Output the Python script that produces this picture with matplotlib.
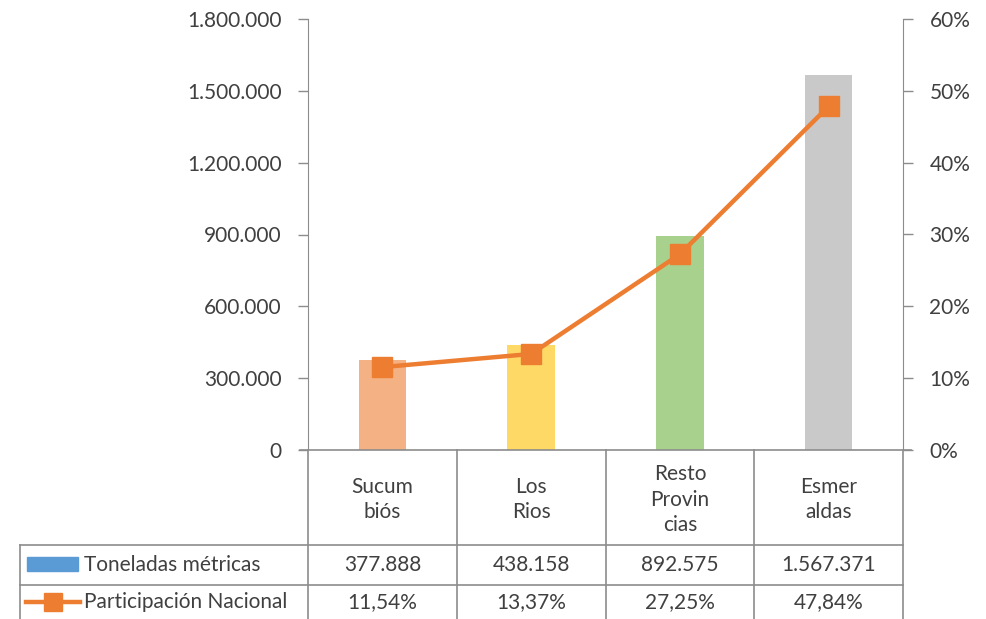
import matplotlib.pyplot as plt
import numpy as np

plt.rcParams['font.family'] = ['Lato', 'DejaVu Sans']

categorias = ["Sucum\nbiós", "Los\nRios", "Resto\nProvin\ncias", "Esmer\naldas"]
toneladas = [377888, 438158, 892575, 1567371]
participacion = [11.54, 13.37, 27.25, 47.84]
toneladas_txt = ["377.888", "438.158", "892.575", "1.567.371"]
participacion_txt = ["11,54%", "13,37%", "27,25%", "47,84%"]
colores_barras = ["#F4B183", "#FFD966", "#A9D18E", "#C9C9C9"]
izq_ticks = [0, 300000, 600000, 900000, 1200000, 1500000, 1800000]
izq_labels = ["0", "300.000", "600.000", "900.000", "1.200.000", "1.500.000", "1.800.000"]
der_ticks = [0, 10, 20, 30, 40, 50, 60]

W, H = 986, 619
fs = 15
fig = plt.figure(figsize=(W / 100, H / 100), dpi=100)
x0, x1, ytop, ybot = 308, 903, 19, 450
ax = fig.add_axes([x0 / W, 1 - ybot / H, (x1 - x0) / W, (ybot - ytop) / H])
ax2 = ax.twinx()

txtcol = "#404040"
gris = "#8C8C8C"
x = np.arange(len(categorias))
ax.bar(x, toneladas, width=0.32, color=colores_barras, zorder=2)
ax.set_xlim(-0.5, len(categorias) - 0.5)
ax.set_ylim(0, 1800000)
ax.set_yticks(izq_ticks)
ax.set_yticklabels(izq_labels)
ax.set_xticks([])

ax2.plot(x, participacion, color="#ED7D31", lw=3.2, marker="s", markersize=14, zorder=3)
ax2.set_ylim(0, 60)
ax2.set_yticks(der_ticks)
ax2.set_yticklabels([f"{t}%" for t in der_ticks])

for a in (ax, ax2):
    a.spines["top"].set_visible(False)
    a.spines["bottom"].set_visible(False)
    a.spines["left"].set_color(gris)
    a.spines["right"].set_color(gris)
    a.tick_params(axis="y", colors=gris, labelcolor=txtcol, labelsize=fs, length=7, width=1)
ax.tick_params(axis="y", pad=12)
ax2.tick_params(axis="y", pad=12)
ax.spines["right"].set_visible(False)
ax2.spines["left"].set_visible(False)

# data table drawn in figure pixel coordinates
def px(xp, yp):
    return xp / W, 1 - yp / H

def linea(xa, ya, xb, yb):
    (fa, ga), (fb, gb) = px(xa, ya), px(xb, yb)
    fig.add_artist(plt.Line2D([fa, fb], [ga, gb], color=gris, lw=1.2))

col_w = (x1 - x0) / len(categorias)
bordes = [x0 + i * col_w for i in range(len(categorias) + 1)]
r0, r1, r2, r3 = 450, 545, 585, 625
linea(x0 - 8, r0, x1 + 8, r0)
for b in bordes:
    linea(b, r0, b, r3)
linea(20, r1, x1, r1)
linea(20, r2, x1, r2)
linea(20, r1, 20, r3)

for i, cat in enumerate(categorias):
    cx = bordes[i] + col_w / 2
    fx, fy = px(cx, (r0 + r1) / 2 + 2)
    fig.text(fx, fy, cat, ha="center", va="center", fontsize=fs, color=txtcol, linespacing=1.35)
    fx, fy = px(cx, (r1 + r2) / 2)
    fig.text(fx, fy, toneladas_txt[i], ha="center", va="center", fontsize=fs, color=txtcol)
    fx, fy = px(cx, (r2 + 619) / 2)
    fig.text(fx, fy, participacion_txt[i], ha="center", va="center", fontsize=fs, color=txtcol)

# legend keys
fx, fy = px(27, 571)
fig.add_artist(plt.Rectangle((fx, fy), 51 / W, 14 / H, color="#5B9BD5"))
fx, fy = px(84, (r1 + r2) / 2)
fig.text(fx, fy, "Toneladas métricas", ha="left", va="center", fontsize=fs, color=txtcol)
ya = (r2 + 619) / 2
fa, ga = px(26, ya)
fb, gb = px(80, ya)
fig.add_artist(plt.Line2D([fa, fb], [ga, gb], color="#ED7D31", lw=3.2))
fm, gm = px(53, ya)
fig.add_artist(plt.Line2D([fm], [gm], color="#ED7D31", marker="s", markersize=13))
fx, fy = px(84, ya)
fig.text(fx, fy, "Participación Nacional", ha="left", va="center", fontsize=fs, color=txtcol)

fig.savefig("out.png", dpi=100)
